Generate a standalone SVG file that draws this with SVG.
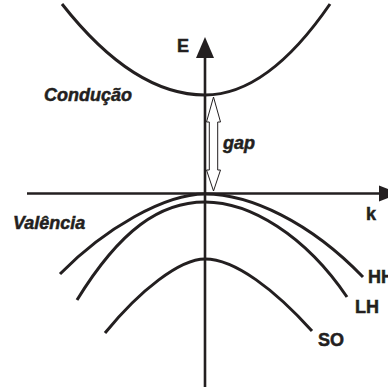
<svg xmlns="http://www.w3.org/2000/svg" width="388" height="392" viewBox="0 0 388 392">
<style>
.band{fill:none;stroke:#231f20;stroke-width:3;stroke-linecap:butt}
.axis{fill:none;stroke:#231f20;stroke-width:2.6}
.head{fill:#231f20;stroke:none}
.lbl{font-family:"Liberation Sans",Arial,sans-serif;font-weight:bold;font-size:18px;fill:#231f20;stroke:#231f20;stroke-width:0.5}
.it{font-style:italic}
</style>
<rect width="388" height="392" fill="#fff"/>
<g id="connectors">
<g id="e-axis">
<line class="axis" x1="205" y1="56" x2="205" y2="387"/>
<polygon class="head" points="205,37 196,58 214,58"/>
</g>
<g id="k-axis">
<line class="axis" x1="27" y1="193.5" x2="382" y2="193.5"/>
<polygon class="head" points="399,193.5 379,185.5 379,201.5"/>
</g>
<g id="gap-arrow">
<polygon points="213.5,97 220.5,122 217.7,122 217.7,170 220.5,170 213.5,191 206.5,170 209.3,170 209.3,122 206.5,122" fill="#fff" stroke="#231f20" stroke-width="1"/>
</g>
</g>
<g id="conducao">
<path class="band" d="M62,4 Q133.5,95 205,95 Q267.5,95 330,4"/>
<text class="lbl it" x="44" y="101">Condução</text>
</g>
<g id="hh">
<path class="band" d="M60,274 C105,228 165,194 205,194 C250,194 310,222 363,277"/>
<text class="lbl" x="368" y="283">HH</text>
</g>
<g id="lh">
<path class="band" d="M77,300 C120,230 160,202 205,202 C250,202 305,235 347,297"/>
<text class="lbl" x="355" y="313">LH</text>
</g>
<g id="so">
<path class="band" d="M105,333 C140,290 180,259 205,259 C235,259 275,290 312,331"/>
<text class="lbl" x="318" y="346">SO</text>
</g>
<g id="labels">
<text class="lbl" x="177" y="52">E</text>
<text class="lbl" x="366" y="220">k</text>
<text class="lbl it" x="223" y="149">gap</text>
<text class="lbl it" x="13" y="229">Valência</text>
</g>
</svg>
